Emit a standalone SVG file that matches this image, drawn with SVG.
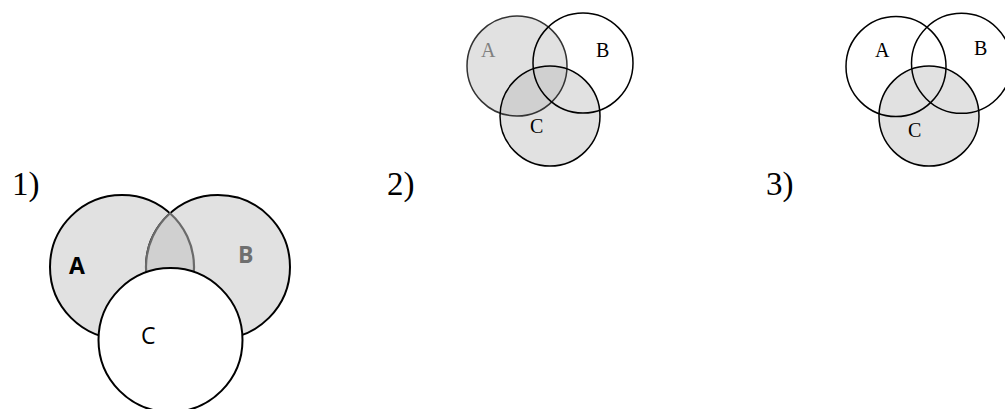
<svg xmlns="http://www.w3.org/2000/svg" width="1005" height="409" viewBox="0 0 1005 409">
<style>
.num{font-family:"Liberation Serif","Times New Roman",serif;font-size:33px;fill:#000}
.ser{font-family:"Liberation Serif","Times New Roman",serif;font-size:20px;fill:#000}
.sans{font-family:"Open Sans","Liberation Sans",sans-serif;font-size:23px;fill:#000}
.ol{stroke:#000;stroke-width:1.5}
.ol2{stroke:#000;stroke-width:2}
</style>
<rect width="1005" height="409" fill="#fff"/>
<text class="num" x="12" y="195">1)</text>
<text class="num" x="387" y="195">2)</text>
<text class="num" x="766" y="195">3)</text>

<g id="panel1">
  <circle id="p1A" cx="122" cy="267" r="72" fill="#e1e1e1" class="ol2"/>
  <circle id="p1B" cx="218" cy="267" r="72" fill="#e1e1e1" class="ol2"/>
  <path id="p1AB" d="M170,213.3 A72,72 0 0,1 170,320.7 A72,72 0 0,1 170,213.3 Z" fill="#d0d0d0" stroke="#6a6a6a" stroke-width="2.2"/>
  <circle id="p1C" cx="170.5" cy="340" r="72" fill="#fff" class="ol2"/>
  <text class="sans" x="69" y="274" font-weight="bold">A</text>
  <text class="sans" x="238" y="263" font-weight="bold" style="fill:#6f6f6f">B</text>
  <text class="sans" x="141" y="344">C</text>
</g>

<g id="panel2">
  <circle cx="517" cy="66" r="50" fill="#e1e1e1"/>
  <circle cx="550" cy="116" r="50" fill="#e1e1e1"/>
  <path d="M500.1,113.1 A50,50 0 0,0 566.9,68.9 A50,50 0 0,0 500.1,113.1 Z" fill="#d0d0d0"/>
  <circle id="p2A" cx="517" cy="66" r="50" fill="none" stroke="#333" stroke-width="1.5"/>
  <circle id="p2B" cx="583" cy="63" r="50" fill="none" class="ol"/>
  <circle id="p2C" cx="550" cy="116" r="50" fill="none" class="ol"/>
  <text class="ser" x="481" y="57" style="fill:#808080">A</text>
  <text class="ser" x="596" y="57">B</text>
  <text class="ser" x="530" y="133">C</text>
</g>

<g id="panel3">
  <circle cx="929" cy="116" r="50" fill="#e1e1e1"/>
  <circle id="p3A" cx="896" cy="66.5" r="50" fill="none" class="ol"/>
  <circle id="p3B" cx="961.5" cy="63.3" r="50" fill="none" class="ol"/>
  <circle id="p3C" cx="929" cy="116" r="50" fill="none" class="ol"/>
  <text class="ser" x="875" y="57">A</text>
  <text class="ser" x="974" y="55">B</text>
  <text class="ser" x="908" y="137">C</text>
</g>
</svg>
